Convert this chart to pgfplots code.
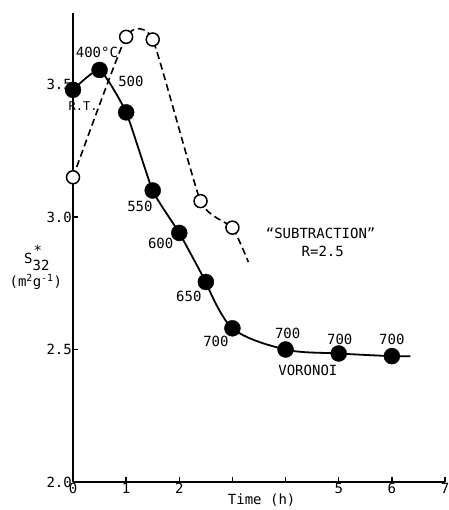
\documentclass[border=0pt]{standalone}
\usepackage{fontspec}
\setmainfont{DejaVu Sans Mono}
\usepackage{pgfplots}
\pgfplotsset{compat=1.18}
\begin{document}
\begin{tikzpicture}[font=\fontsize{14}{16}\selectfont]
\path[use as bounding box] (-73pt,-28pt) rectangle (375pt,482pt);
\begin{axis}[
  at={(0,0)}, anchor=south west,
  scale only axis, width=372pt, height=469pt,
  xmin=0, xmax=7, ymin=2.0, ymax=3.77,
  axis x line=bottom, axis y line=left,
  axis line style={-, line width=1.5pt},
  tick align=inside, major tick length=5pt,
  tick style={line width=1.5pt, black},
  xtick={0,1,2,3,4,5,6,7},
  xticklabels={0,1,2,,,5,6,7},
  ytick={2.0,2.5,3.0,3.5},
  yticklabel style={/pgf/number format/fixed, /pgf/number format/fixed zerofill, /pgf/number format/precision=1, inner sep=1pt},
  xticklabel style={inner sep=1pt},
  /pgf/number format/assume math mode=true,
  clip=false,
  xlabel={Time (h)},
  xlabel style={at={(axis cs:3.55,2.0)}, anchor=center, yshift=-18pt},
]
% subtraction dashed curve
\addplot[black, line width=1.6pt, dash pattern=on 7pt off 4pt, smooth, tension=0.3, no marks] coordinates {
(0,3.15) (1,3.68) (1.5,3.67) (2.4,3.06) (3,2.96) (3.3,2.83)};
% voronoi solid curve
\addplot[black, line width=1.8pt, smooth, tension=0.3, no marks] coordinates {
(0,3.48) (0.5,3.555) (1,3.395) (1.5,3.10) (2,2.94) (2.5,2.755)};
\addplot[black, line width=1.8pt, smooth, tension=0.55, no marks] coordinates {
(2.5,2.755) (3,2.58) (4,2.50) (5,2.485) (6,2.475) (6.35,2.475)};
% open circles
\addplot[only marks, mark=*, mark size=6.5pt, mark options={fill=white, draw=black, line width=1.5pt}] coordinates {
(0,3.15) (1,3.68) (1.5,3.67) (2.4,3.06) (3,2.96)};
% filled circles
\addplot[only marks, mark=*, mark size=8pt, mark options={fill=black, draw=black}] coordinates {
(0,3.48) (0.5,3.555) (1,3.395) (1.5,3.10) (2,2.94) (2.5,2.755) (3,2.58) (4,2.50) (5,2.485) (6,2.475)};
\node at (axis cs:0.45,3.62) {400°C};
\node at (axis cs:1.09,3.51) {500};
\node[font=\fontsize{12}{14}\selectfont] at (axis cs:0.19,3.42) {R.T.};
\node at (axis cs:1.26,3.04) {550};
\node at (axis cs:1.65,2.90) {600};
\node at (axis cs:2.18,2.70) {650};
\node at (axis cs:2.69,2.53) {700};
\node at (axis cs:4.04,2.56) {700};
\node at (axis cs:5.02,2.54) {700};
\node at (axis cs:6.0,2.54) {700};
\node at (axis cs:4.42,2.42) {VORONOI};
\node at (axis cs:4.66,2.94) {“SUBTRACTION”};
\node at (axis cs:4.70,2.87) {R=2.5};
\node at (axis cs:-0.68,2.845) {S\makebox[0pt][l]{\raisebox{8pt}{\kern1pt *}}\raisebox{-7pt}{32}};
\node at (axis cs:-0.70,2.755) {(m\textsuperscript{2}g\textsuperscript{-1})};
\end{axis}
\end{tikzpicture}
\end{document}
